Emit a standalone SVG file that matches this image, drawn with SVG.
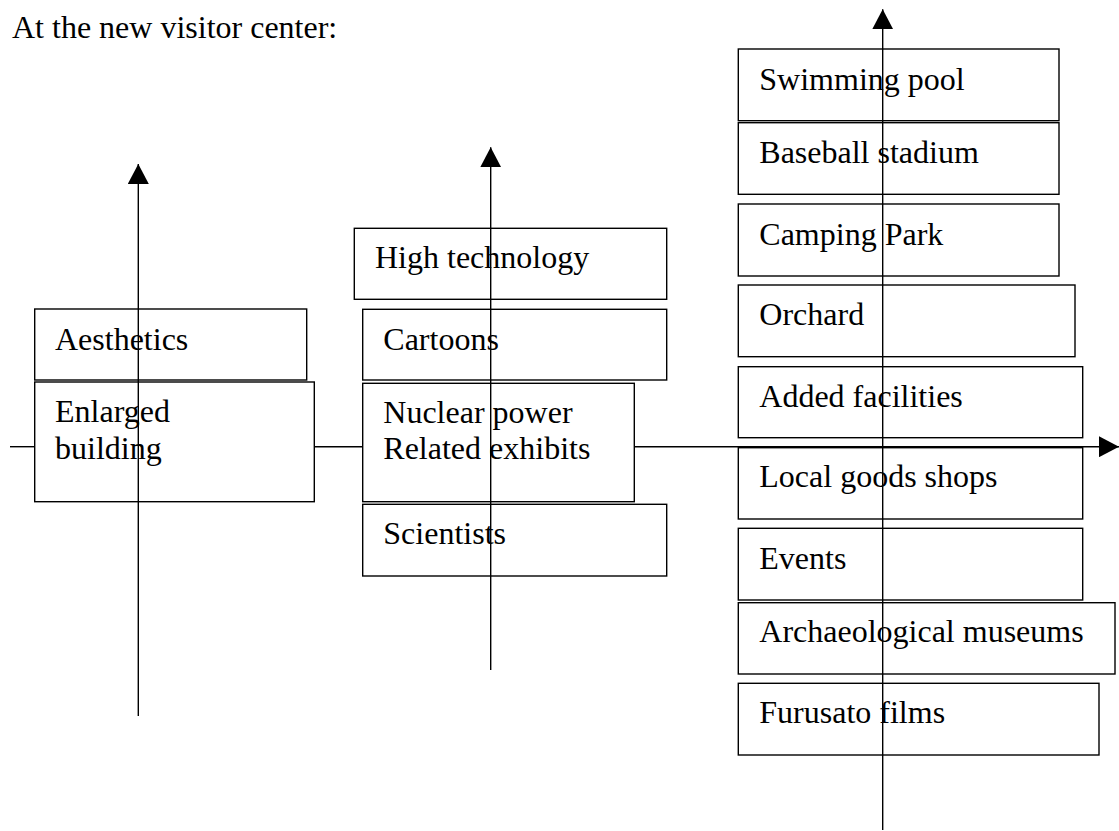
<svg xmlns="http://www.w3.org/2000/svg" width="1119" height="831" viewBox="0 0 1119 831">
<style>
text{font-family:"Liberation Serif","Times New Roman",serif;font-size:32px;fill:#000}
.box{fill:#fff;stroke:#000;stroke-width:1.4}
.ax{stroke:#000;stroke-width:1.4;fill:none}
</style>
<defs>
<marker id="ah" markerUnits="userSpaceOnUse" markerWidth="21" markerHeight="21" refX="20" refY="10.5" orient="auto" viewBox="0 0 21 21">
<path d="M0,0 L20,10.5 L0,21 z" fill="#000"/>
</marker>
</defs>
<rect width="1119" height="831" fill="#fff"/>
<text x="12" y="38">At the new visitor center:</text>
<g id="n-aesthetics"><rect class="box" x="34.7" y="309" width="272" height="71"/><text x="55" y="350">Aesthetics</text></g>
<g id="n-enlarged"><rect class="box" x="34.7" y="382" width="279.6" height="119.7"/><text x="55" y="422">Enlarged</text><text x="55" y="458.5">building</text></g>
<g id="n-hightech"><rect class="box" x="354.3" y="228.3" width="312.4" height="71"/><text x="375" y="267.5">High technology</text></g>
<g id="n-cartoons"><rect class="box" x="362.7" y="309.3" width="304" height="70.7"/><text x="383.3" y="350">Cartoons</text></g>
<g id="n-nuclear"><rect class="box" x="362.7" y="383.3" width="271.6" height="118.4"/><text x="383.3" y="422.7">Nuclear power</text><text x="383.3" y="459.3">Related exhibits</text></g>
<g id="n-scientists"><rect class="box" x="362.7" y="504.3" width="304" height="71.7"/><text x="383.3" y="544.3">Scientists</text></g>
<g id="n-swim"><rect class="box" x="738.3" y="49" width="320.7" height="71.7"/><text x="759.3" y="90">Swimming pool</text></g>
<g id="n-baseball"><rect class="box" x="738.3" y="122.7" width="320.7" height="71.6"/><text x="759.3" y="162.7">Baseball stadium</text></g>
<g id="n-camping"><rect class="box" x="738.3" y="204" width="320.7" height="72"/><text x="759.3" y="245">Camping Park</text></g>
<g id="n-orchard"><rect class="box" x="738.3" y="285" width="336.7" height="71.7"/><text x="759.3" y="325">Orchard</text></g>
<g id="n-added"><rect class="box" x="738.3" y="366.7" width="344.4" height="71"/><text x="759.3" y="406.7">Added facilities</text></g>
<g id="n-local"><rect class="box" x="738.3" y="447.7" width="344.4" height="71.3"/><text x="759.3" y="487.3">Local goods shops</text></g>
<g id="n-events"><rect class="box" x="738.3" y="528.3" width="344.4" height="71.7"/><text x="759.3" y="568.5">Events</text></g>
<g id="n-archaeo"><rect class="box" x="738.3" y="602.7" width="376.7" height="71.3"/><text x="759.3" y="641.7">Archaeological museums</text></g>
<g id="n-furusato"><rect class="box" x="738.3" y="683.3" width="360.7" height="71.7"/><text x="759.3" y="723.3">Furusato films</text></g>
<g id="connectors">
<line class="ax" x1="10" y1="446.7" x2="34.7" y2="446.7"/>
<line class="ax" x1="314.3" y1="446.7" x2="362.7" y2="446.7"/>
<line class="ax" x1="634.3" y1="446.7" x2="1119" y2="446.7" marker-end="url(#ah)"/>
<line class="ax" x1="138.3" y1="716" x2="138.3" y2="164" marker-end="url(#ah)"/>
<line class="ax" x1="490.7" y1="670" x2="490.7" y2="147.3" marker-end="url(#ah)"/>
<line class="ax" x1="882.7" y1="830" x2="882.7" y2="9.3" marker-end="url(#ah)"/>
</g>
</svg>
